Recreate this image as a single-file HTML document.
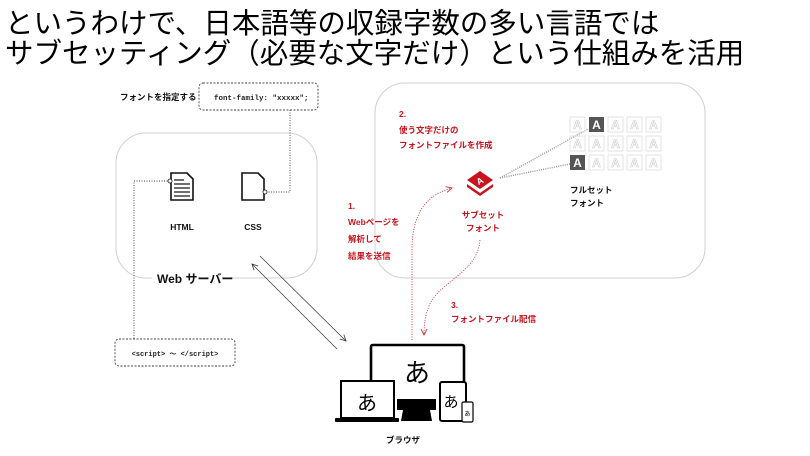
<!DOCTYPE html>
<html><head><meta charset="utf-8"><style>
html,body{margin:0;padding:0;background:#fff;}
svg{display:block;}
text{font-family:"Liberation Sans","Noto Sans CJK JP",sans-serif;}
.m{font-family:"Liberation Mono","Noto Sans CJK JP",monospace;}
.r{fill:#c8141e;font-weight:bold;font-size:8.5px;}
.b{font-weight:bold;font-size:8.5px;fill:#111;}
</style></head><body>
<svg width="810" height="456" viewBox="0 0 810 456" xmlns="http://www.w3.org/2000/svg">
<defs>
<marker id="ah" markerWidth="8" markerHeight="8" refX="6" refY="4" orient="auto" markerUnits="userSpaceOnUse"><path d="M0,1 L6,4 L0,7" fill="none" stroke="#333" stroke-width="0.8"/></marker>
<marker id="rh" markerWidth="8" markerHeight="8" refX="6" refY="4" orient="auto" markerUnits="userSpaceOnUse"><path d="M0,1 L6,4 L0,7" fill="none" stroke="#c8141e" stroke-width="0.8"/></marker>
</defs>
<text x="5" y="33" font-size="28.5" fill="#000">というわけで、日本語等の収録字数の多い言語では</text>
<text x="5" y="63" font-size="28.5" fill="#000">サブセッティング（必要な文字だけ）という仕組みを活用</text>

<!-- boxes -->
<rect x="116" y="133" width="201" height="145" rx="30" fill="none" stroke="#d0d0d0" stroke-width="1"/>
<rect x="152" y="270" width="80" height="16" fill="#fff"/>
<text x="157" y="283" font-size="12" font-weight="bold" fill="#111">Web サーバー</text>
<rect x="375" y="83" width="330" height="195" rx="30" fill="none" stroke="#d0d0d0" stroke-width="1"/>

<!-- font-family -->
<text x="120" y="100" class="b" font-size="7.5">フォントを指定する</text>
<rect x="199" y="83" width="119" height="27" rx="4" fill="none" stroke="#444" stroke-width="0.9" stroke-dasharray="2,1.5"/>
<text x="214" y="100" class="m" font-size="7.5" font-weight="bold" fill="#222">font-family: "xxxxx";</text>
<path d="M290,110 V192 H265" fill="none" stroke="#444" stroke-width="0.9" stroke-dasharray="1,1.5"/>
<path d="M170,181 H134 V340" fill="none" stroke="#444" stroke-width="0.9" stroke-dasharray="1,1.5"/>

<!-- HTML icon -->
<path d="M171,173 H187 L193,179 V200 H171 Z" fill="#fff" stroke="#111" stroke-width="1.6"/>
<g stroke="#111" stroke-width="1.2"><line x1="174" y1="180" x2="184" y2="180"/><line x1="174" y1="184" x2="190" y2="184"/><line x1="174" y1="188" x2="190" y2="188"/><line x1="174" y1="192" x2="190" y2="192"/><line x1="174" y1="196" x2="190" y2="196"/></g>
<circle cx="170" cy="181" r="2" fill="#fff" stroke="#111" stroke-width="0.8"/>
<text x="182" y="230" text-anchor="middle" class="b" font-size="9.5">HTML</text>
<!-- CSS icon -->
<path d="M242,173 H258 L264,179 V200 H242 Z" fill="#fff" stroke="#111" stroke-width="1.6"/>
<circle cx="265" cy="192" r="2" fill="#fff" stroke="#111" stroke-width="0.8"/>
<text x="253" y="230" text-anchor="middle" class="b" font-size="9.5">CSS</text>

<!-- script -->
<rect x="115" y="339" width="120" height="27" rx="4" fill="none" stroke="#444" stroke-width="0.9" stroke-dasharray="2,1.5"/>
<text x="175" y="356" text-anchor="middle" class="m" font-size="7" font-weight="bold" fill="#222">&lt;script&gt; ～ &lt;/script&gt;</text>

<!-- arrows -->
<line x1="260" y1="256" x2="346" y2="341" stroke="#333" stroke-width="0.7" marker-end="url(#ah)"/>
<line x1="337" y1="349" x2="252" y2="264" stroke="#333" stroke-width="0.7" marker-end="url(#ah)"/>

<!-- red labels -->
<text x="348" y="209" class="r">1.</text>
<text x="348" y="225" class="r">Webページを</text>
<text x="348" y="242" class="r">解析して</text>
<text x="348" y="259" class="r">結果を送信</text>
<text x="399" y="117" class="r">2.</text>
<text x="399" y="133" class="r">使う文字だけの</text>
<text x="399" y="148" class="r">フォントファイルを作成</text>
<text x="451" y="308" class="r">3.</text>
<text x="451" y="322" class="r">フォントファイル配信</text>
<text x="483" y="218" class="r" text-anchor="middle">サブセット</text>
<text x="483" y="231" class="r" text-anchor="middle">フォント</text>

<path d="M412,340 V250 C412,215 425,195 452,188" fill="none" stroke="#c8141e" stroke-width="0.8" stroke-dasharray="1,1.5" marker-end="url(#rh)"/>
<path d="M480,240 C478,270 445,280 432,300 C426,310 424,322 424,335" fill="none" stroke="#c8141e" stroke-width="0.8" stroke-dasharray="1,1.5" marker-end="url(#rh)"/>

<!-- subset icon -->
<path d="M480,171 L493,180 L480,189 L467,180 Z" fill="#c8141e"/>
<path d="M467,184 L480,193 L493,184 L493,187 L480,196 L467,187 Z" fill="#c8141e"/>
<text x="480" y="184" text-anchor="middle" font-size="9" font-weight="bold" fill="#fff" transform="rotate(-30 480 181)">A</text>

<!-- dotted to grid -->
<line x1="500" y1="178" x2="588" y2="129" stroke="#999" stroke-width="1.5" stroke-dasharray="1,1.2"/>
<line x1="500" y1="178" x2="570" y2="164" stroke="#999" stroke-width="1.5" stroke-dasharray="1,1.2"/>

<!-- grid -->
<g font-size="12" text-anchor="middle" font-weight="bold">
<g fill="none" stroke="#ddd" stroke-width="0.8">
<rect x="570" y="117" width="15" height="15"/><rect x="608" y="117" width="15" height="15"/><rect x="627" y="117" width="15" height="15"/><rect x="646" y="117" width="15" height="15"/>
<rect x="570" y="136" width="15" height="15"/><rect x="589" y="136" width="15" height="15"/><rect x="608" y="136" width="15" height="15"/><rect x="627" y="136" width="15" height="15"/><rect x="646" y="136" width="15" height="15"/>
<rect x="589" y="155" width="15" height="15"/><rect x="608" y="155" width="15" height="15"/><rect x="627" y="155" width="15" height="15"/><rect x="646" y="155" width="15" height="15"/>
</g>
<g fill="#fff" stroke="#ccc" stroke-width="0.6">
<text x="577.5" y="129">A</text><text x="615.5" y="129">A</text><text x="634.5" y="129">A</text><text x="653.5" y="129">A</text>
<text x="577.5" y="148">A</text><text x="596.5" y="148">A</text><text x="615.5" y="148">A</text><text x="634.5" y="148">A</text><text x="653.5" y="148">A</text>
<text x="596.5" y="167">A</text><text x="615.5" y="167">A</text><text x="634.5" y="167">A</text><text x="653.5" y="167">A</text>
</g>
<rect x="589" y="117" width="15" height="15" fill="#555"/><text x="596.5" y="129" fill="#fff">A</text>
<rect x="570" y="155" width="15" height="15" fill="#555"/><text x="577.5" y="167" fill="#fff">A</text>
</g>
<text x="570" y="193" class="b">フルセット</text>
<text x="570" y="206" class="b">フォント</text>

<!-- devices -->
<path d="M371,380 V347 Q371,345 373,345 H462 Q464,345 464,347 V383" fill="none" stroke="#000" stroke-width="2.6"/>
<text x="417" y="382" text-anchor="middle" font-size="26" font-family="Noto Serif CJK SC,serif" fill="#000">あ</text>
<path d="M397,399 H436 V410 H430 L432,421 H401 L403,410 H397 Z" fill="#000"/>
<rect x="341" y="381" width="53" height="37" fill="#fff" stroke="#000" stroke-width="2"/>
<rect x="335" y="418" width="64" height="4" rx="1" fill="#000"/>
<text x="367" y="410" text-anchor="middle" font-size="20" font-family="Noto Serif CJK SC,serif" fill="#000">あ</text>
<rect x="440" y="382" width="26" height="39" rx="2" fill="#fff" stroke="#000" stroke-width="2"/>
<text x="451" y="407" text-anchor="middle" font-size="15" font-family="Noto Serif CJK SC,serif" fill="#000">あ</text>
<rect x="462" y="402" width="11" height="20" rx="1.5" fill="#fff" stroke="#000" stroke-width="1.2"/>
<text x="467.5" y="416" text-anchor="middle" font-size="6" font-family="Noto Serif CJK SC,serif" fill="#000">あ</text>
<text x="403" y="443" text-anchor="middle" class="b" font-size="7.5">ブラウザ</text>
</svg>
</body></html>
